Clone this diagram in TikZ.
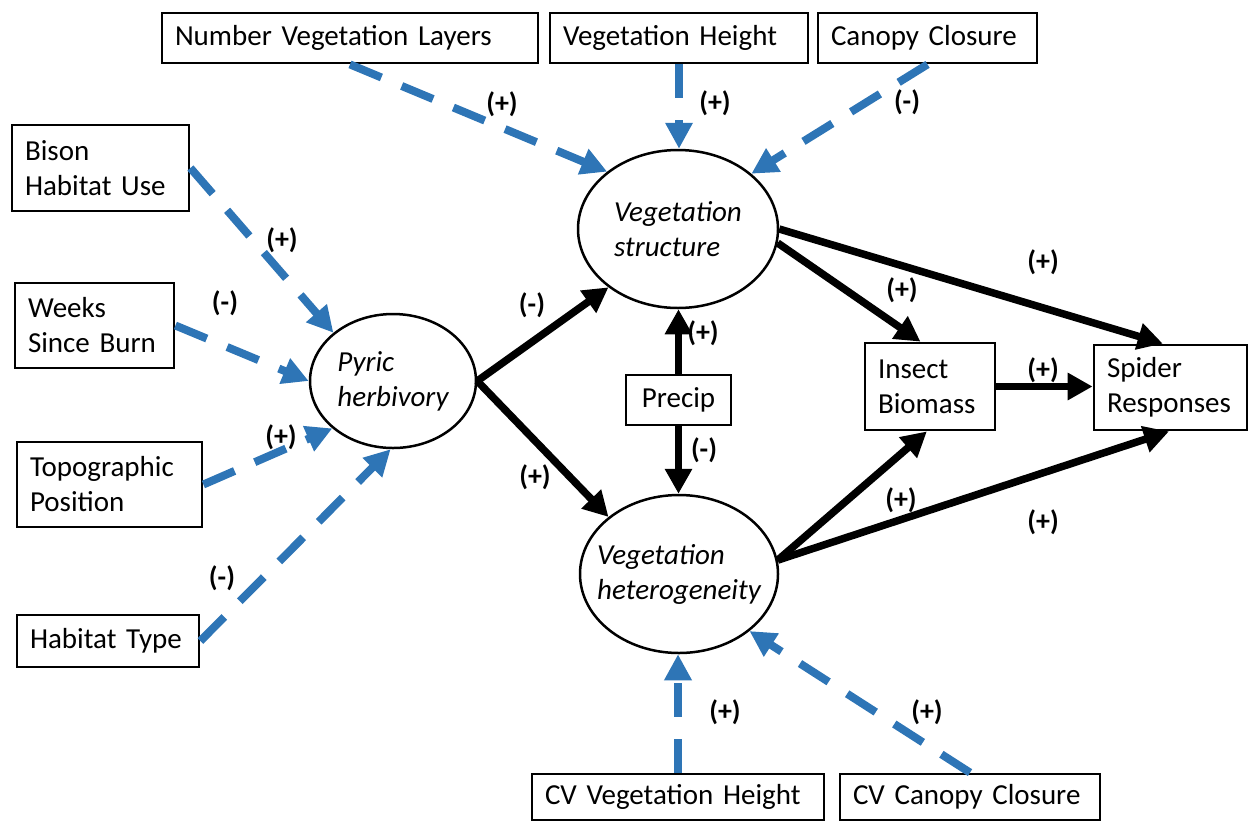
\documentclass[tikz,border=0pt]{standalone}
\usepackage{fontspec}
\setmainfont{Carlito}
\usetikzlibrary{arrows.meta,shapes.geometric}
\definecolor{eblue}{RGB}{46,117,182}
\begin{document}
\begin{tikzpicture}[x=1pt,y=-1pt,
  bx/.style={draw, line width=2.8pt, inner xsep=13pt, inner ysep=0pt, align=left, font=\fontsize{29}{35}\selectfont},
  ell/.style={draw, ellipse, line width=2.5pt, inner sep=0pt, inner xsep=-20pt, align=left, font=\fontsize{29}{35}\selectfont\itshape},
  lab/.style={font=\fontsize{28}{34}\selectfont\bfseries, inner sep=0pt},
  blu/.style={draw=eblue, line width=8pt, dash pattern=on 34pt off 22pt, -{Triangle[length=26pt,width=26pt]}},
  blk/.style={draw=black, line width=7.5pt, -{Triangle[length=25pt,width=26pt]}},
]
\useasboundingbox (0,0) rectangle (1249,820);
% boxes
\node[bx, text width=350pt, minimum height=50pt] (nvl) at (350,38) {Number~Vegetation~Layers};
\node[bx, text width=232pt, minimum height=50pt] (vh) at (679,38) {Vegetation~Height};
\node[bx, text width=193pt, minimum height=50pt] (cc) at (927.5,38) {Canopy~Closure};
\node[bx, text width=151pt, minimum height=86pt] (bison) at (100.5,168) {Bison\\Habitat~Use};
\node[bx, text width=133pt, minimum height=85pt] (weeks) at (94.5,325.5) {Weeks\\Since~Burn};
\node[bx, text width=159pt, minimum height=85pt] (topo) at (109.5,484.5) {Topographic\\Position};
\node[bx, text width=156pt, minimum height=52pt] (habitat) at (108,641) {Habitat~Type};
\node[bx, text width=79pt, minimum height=50pt, align=center] (precip) at (678.5,400) {Precip};
\node[bx, text width=104pt, minimum height=87pt] (insect) at (930,386.5) {Insect\\Biomass};
\node[bx, text width=127pt, minimum height=85pt] (spider) at (1170.5,387.5) {Spider\\Responses};
\node[bx, text width=266pt, minimum height=46pt] (cvvh) at (678,797) {CV~Vegetation~Height};
\node[bx, text width=234pt, minimum height=46pt] (cvcc) at (970,797) {CV~Canopy~Closure};
% ellipses
\node[ell, minimum width=200pt, minimum height=158pt] (vs) at (678,229) {Vegetation\\structure};
\node[ell, minimum width=198pt, minimum height=158pt] (vhet) at (679,574) {Vegetation\\heterogeneity};
\node[ell, minimum width=166pt, minimum height=134pt] (pyric) at (393,381) {Pyric\\herbivory};
% blue dashed connectors
\draw[blu] (nvl.south) -- (vs.141);
\draw[blu] (vh.south) -- (vh.south |- vs.north);
\draw[blu] (cc.south) -- (vs.37);
\draw[blu] (bison.east) -- (pyric.141);
\draw[blu] (weeks.east) -- (pyric.west);
\draw[blu] (topo.east) -- (pyric.218);
\draw[blu] (habitat.east) -- (pyric.268);
\draw[blu] (cvvh.north) -- (cvvh.north |- vhet.south);
\draw[blu] (cvcc.north) -- (vhet.-39);
% black connectors
\draw[blk] (pyric.east) -- (vs.220);
\draw[blk] (pyric.east) -- (vhet.141);
\draw[blk] (precip.north) -- (precip.north |- vs.south);
\draw[blk] (precip.south) -- (precip.south |- vhet.north);
\draw[blk] (vs.-8) -- (insect.102);
\draw[blk] (vs.east) -- (spider.100);
\draw[blk] (insect.east) -- (insect.east -| spider.west);
\draw[blk] (vhet.8) -- (insect.-94);
\draw[blk] (vhet.8) -- (spider.-92);
% labels
\node[lab] (l1) at (502,104) {(+)};
\node[lab] (l2) at (715,103) {(+)};
\node[lab] (l3) at (907,102) {(-)};
\node[lab] (l4) at (282,240) {(+)};
\node[lab] (l5) at (225,303) {(-)};
\node[lab] (l6) at (281,437) {(+)};
\node[lab] (l7) at (222,578) {(-)};
\node[lab] (l8) at (532,305) {(-)};
\node[lab] (l9) at (535,477) {(+)};
\node[lab] (l10) at (703,333) {(+)};
\node[lab] (l11) at (704,450) {(-)};
\node[lab] (l12) at (902,290) {(+)};
\node[lab] (l13) at (1043,262) {(+)};
\node[lab] (l14) at (1043,370) {(+)};
\node[lab] (l15) at (901,500) {(+)};
\node[lab] (l16) at (1043,522) {(+)};
\node[lab] (l17) at (725,712) {(+)};
\node[lab] (l18) at (927,712) {(+)};
\end{tikzpicture}
\end{document}
